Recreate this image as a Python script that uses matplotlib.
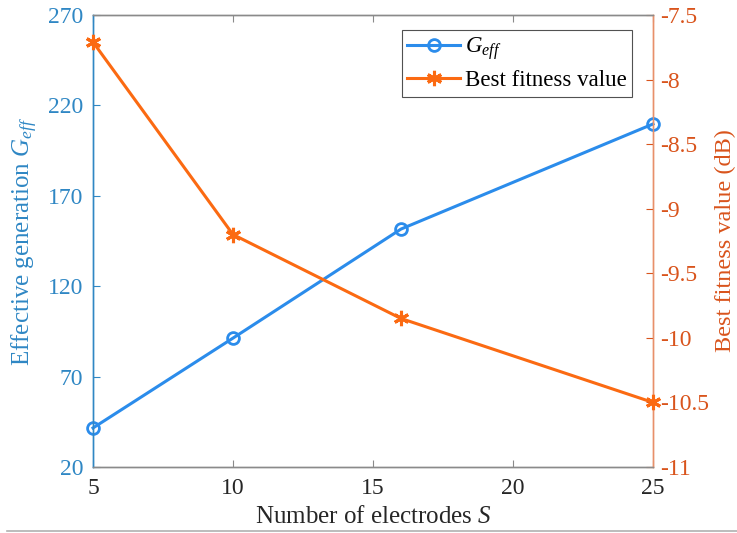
import matplotlib
matplotlib.use("Agg")
import matplotlib.pyplot as plt
from matplotlib.lines import Line2D

plt.rcParams["font.family"] = "Liberation Serif"
plt.rcParams["mathtext.fontset"] = "custom"
plt.rcParams["mathtext.rm"] = "Liberation Serif"
plt.rcParams["mathtext.it"] = "Liberation Serif:italic"

electrodes = [5, 10, 16, 25]
g_eff = [41.6, 91.3, 151.6, 209.7]
best_fitness = [-7.71, -9.20, -9.85, -10.50]

x_ticks = [5, 10, 15, 20, 25]
left_ticks = [20, 70, 120, 170, 220, 270]
right_ticks = [-11, -10.5, -10, -9.5, -9, -8.5, -8, -7.5]
right_ticklabels = ["-11", "-10.5", "-10", "-9.5", "-9", "-8.5", "-8", "-7.5"]

BLUE = "#2b8ceb"
ORANGE = "#fb6a12"
BLUE_TXT = "#2f87c4"
ORANGE_TXT = "#d9541c"
GRAY = "#8a8a8a"


def main():
    fig = plt.figure(figsize=(7.37, 5.33), dpi=100)
    ax = fig.add_axes([0.1262, 0.1238, 0.7598, 0.8481])
    ax2 = ax.twinx()

    (l1,) = ax.plot(electrodes, g_eff, color=BLUE, lw=2.2, marker="o", ms=8.5,
                    mfc="none", mew=2, label="$G_{eff}$", clip_on=False, zorder=3)
    (l2,) = ax2.plot(electrodes, best_fitness, color=ORANGE, lw=2.2, marker=(6, 2, 0),
                     ms=11, mew=2.2, label="Best fitness value", clip_on=False, zorder=3)

    ax.set_xlim(5, 25)
    ax.set_ylim(20, 270)
    ax2.set_ylim(-11, -7.5)
    ax.set_xticks(x_ticks)
    ax.set_yticks(left_ticks)
    ax2.set_yticks(right_ticks)
    ax2.set_yticklabels(right_ticklabels)

    ax.tick_params(axis="x", direction="in", top=True, length=5, colors=GRAY,
                   labelcolor="#262626", labelsize=17, pad=8)
    ax.tick_params(axis="y", direction="in", length=5, colors=BLUE_TXT,
                   labelcolor=BLUE_TXT, labelsize=17, pad=7)
    ax2.tick_params(axis="y", direction="in", length=5, colors=ORANGE_TXT,
                    labelcolor=ORANGE_TXT, labelsize=17, pad=5)
    ax2.tick_params(axis="x", top=False, bottom=False)

    for a in (ax, ax2):
        a.spines["top"].set_color(GRAY)
        a.spines["bottom"].set_color(GRAY)
        a.spines["left"].set_color(BLUE_TXT)
        a.spines["right"].set_color("#e8906a")
        for s in a.spines.values():
            s.set_linewidth(1.0)

    ax.set_xlabel("Number of electrodes $S$", fontsize=18, color="#262626", labelpad=5)
    ax.set_ylabel("Effective generation $G_{eff}$", fontsize=18, color=BLUE_TXT, labelpad=6)
    ax2.set_ylabel("Best fitness value (dB)", fontsize=17.5, color=ORANGE_TXT, labelpad=4)

    leg = ax.legend(handles=[l1, l2], loc="upper right",
                    bbox_to_anchor=(0.963, 0.967), fontsize=16.5, frameon=True,
                    fancybox=False, edgecolor="#262626", borderpad=0.25,
                    handlelength=2.3, labelspacing=0.35, handletextpad=0.2,
                    borderaxespad=0)
    leg.get_frame().set_linewidth(0.8)
    leg.set_zorder(5)

    # thin separator under the figure
    fig.add_artist(Line2D([0.01, 1.0], [0.004, 0.004], color="#b0b0b0", lw=1.2))

    fig.savefig("out.png", dpi=100)


if __name__ == "__main__":
    main()
